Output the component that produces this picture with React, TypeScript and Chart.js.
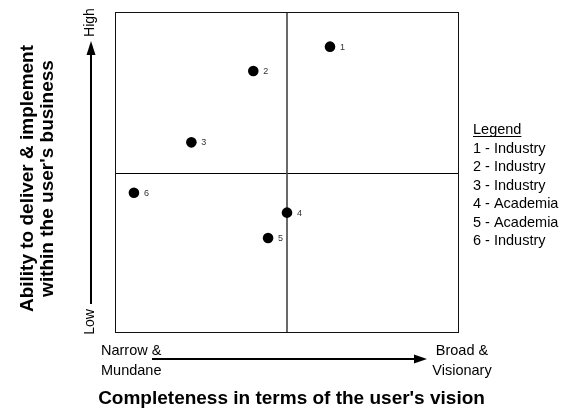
import React, { useEffect, useRef } from "react";
import { Chart, registerables } from "chart.js";

Chart.register(...registerables);

const pointIds = ["1", "2", "3", "4", "5", "6"];
const xValues = [6.25, 4.02, 2.22, 5.0, 4.45, 0.55];
const yValues = [8.92, 8.16, 5.94, 3.75, 2.96, 4.37];
const legendEntries = ["1 - Industry", "2 - Industry", "3 - Industry", "4 - Academia", "5 - Academia", "6 - Industry"];
const yTitleLines = ["Ability to deliver & implement", "within the user's business"];
const xTitle = "Completeness in terms of the user's vision";
const yLow = "Low";
const yHigh = "High";
const xLowLines = ["Narrow &", "Mundane"];
const xHighLines = ["Broad &", "Visionary"];
const quadrantSplit = 5;

const FONT = "'Liberation Sans', Arial, sans-serif";

const decorPlugin = {
  id: "decor",
  beforeDatasetsDraw(chart: any) {
    const { ctx, chartArea: a, scales } = chart;
    ctx.save();
    const mx = Math.round(scales.x.getPixelForValue(quadrantSplit));
    const my = Math.round(scales.y.getPixelForValue(quadrantSplit));
    ctx.strokeStyle = "#000";
    ctx.lineWidth = 1;
    ctx.beginPath();
    ctx.moveTo(a.left, my + 0.5);
    ctx.lineTo(a.right, my + 0.5);
    ctx.stroke();
    ctx.strokeStyle = "#444";
    ctx.lineWidth = 1.6;
    ctx.beginPath();
    ctx.moveTo(mx, a.top);
    ctx.lineTo(mx, a.bottom);
    ctx.stroke();
    ctx.strokeStyle = "#111";
    ctx.lineWidth = 1;
    ctx.strokeRect(a.left + 0.5, a.top + 0.5, a.right - a.left - 1, a.bottom - a.top - 1);
    ctx.restore();
  },
  afterDraw(chart: any) {
    const { ctx, chartArea: a } = chart;
    ctx.save();

    // point labels
    const meta = chart.getDatasetMeta(0);
    ctx.font = `9px ${FONT}`;
    ctx.fillStyle = "#333";
    ctx.textAlign = "left";
    ctx.textBaseline = "middle";
    meta.data.forEach((el: any, i: number) => {
      ctx.fillText(pointIds[i], el.x + 10, el.y + 0.5);
    });

    // legend
    ctx.fillStyle = "#000";
    ctx.font = `14.5px ${FONT}`;
    ctx.textBaseline = "alphabetic";
    const lx = a.right + 14;
    const ly0 = 134;
    ctx.fillText("Legend", lx, ly0);
    const lw = ctx.measureText("Legend").width;
    ctx.fillRect(lx, ly0 + 2, lw, 1);
    legendEntries.forEach((t, i) => {
      ctx.fillText(t, lx, ly0 + 18.5 * (i + 1));
    });

    // y title (rotated)
    ctx.font = `bold 19px ${FONT}`;
    ctx.textAlign = "center";
    yTitleLines.forEach((t, i) => {
      ctx.save();
      ctx.translate(33 + i * 20, 178.5);
      ctx.rotate(-Math.PI / 2);
      ctx.fillText(t, 0, 0);
      ctx.restore();
    });

    // x title
    ctx.fillText(xTitle, 291.5, 404);

    // vertical arrow
    const ax = 91;
    ctx.strokeStyle = "#000";
    ctx.lineWidth = 2;
    ctx.beginPath();
    ctx.moveTo(ax, 304);
    ctx.lineTo(ax, 52);
    ctx.stroke();
    ctx.beginPath();
    ctx.moveTo(ax, 41);
    ctx.lineTo(ax - 4.5, 55);
    ctx.lineTo(ax + 4.5, 55);
    ctx.closePath();
    ctx.fill();

    ctx.font = `14px ${FONT}`;
    ctx.textAlign = "center";
    ctx.save();
    ctx.translate(94, 22.5);
    ctx.rotate(-Math.PI / 2);
    ctx.fillText(yHigh, 0, 0);
    ctx.restore();
    ctx.save();
    ctx.translate(94, 322);
    ctx.rotate(-Math.PI / 2);
    ctx.fillText(yLow, 0, 0);
    ctx.restore();

    // horizontal arrow
    const ay = 359;
    ctx.beginPath();
    ctx.moveTo(152, ay);
    ctx.lineTo(420, ay);
    ctx.stroke();
    ctx.beginPath();
    ctx.moveTo(427, ay);
    ctx.lineTo(414, ay - 4.5);
    ctx.lineTo(414, ay + 4.5);
    ctx.closePath();
    ctx.fill();

    ctx.font = `14.5px ${FONT}`;
    ctx.textAlign = "left";
    xLowLines.forEach((t, i) => ctx.fillText(t, 101, 355 + i * 20));
    ctx.textAlign = "center";
    xHighLines.forEach((t, i) => ctx.fillText(t, 462, 355 + i * 20));

    ctx.restore();
  },
};

export default function App() {
  const ref = useRef<HTMLCanvasElement>(null);
  useEffect(() => {
    if (!ref.current) return;
    const chart = new Chart(ref.current, {
      type: "scatter",
      data: {
        datasets: [
          {
            data: xValues.map((x, i) => ({ x, y: yValues[i] })),
            backgroundColor: "#000",
            borderColor: "#000",
            borderWidth: 0,
            pointRadius: 5.3,
            pointHoverRadius: 5.3,
          },
        ],
      },
      options: {
        responsive: false,
        animation: false,
        layout: { padding: { left: 115, top: 12, right: 112, bottom: 76 } },
        plugins: { legend: { display: false }, tooltip: { enabled: false } },
        scales: {
          x: { type: "linear", min: 0, max: 10, display: false },
          y: { type: "linear", min: 0, max: 10, display: false },
        },
      },
      plugins: [decorPlugin],
    });
    return () => chart.destroy();
  }, []);
  return (
    <div style={{ position: "fixed", left: 0, top: 0, width: 571, height: 409, background: "#fff" }}>
      <canvas ref={ref} width={571} height={409} />
    </div>
  );
}
